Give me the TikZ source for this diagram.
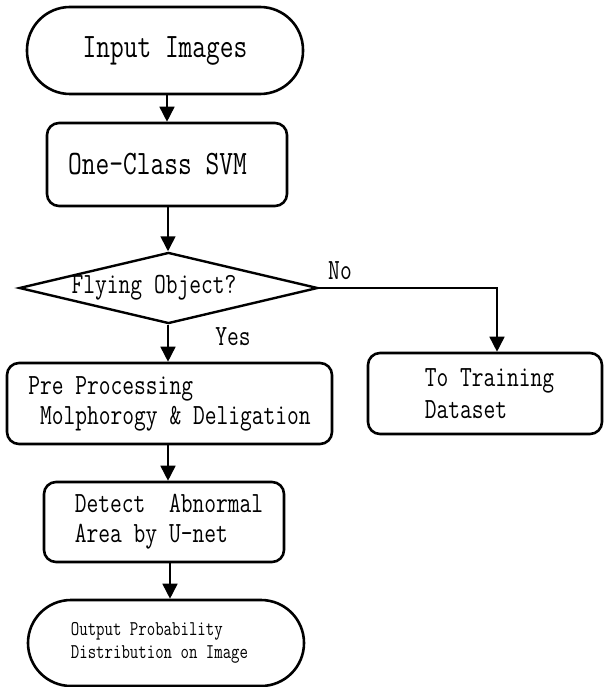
\documentclass[tikz,border=0pt]{standalone}
\usepackage{fontspec}
\setmonofont{Latin Modern Mono}[FakeStretch=0.78]
\usetikzlibrary{shapes.geometric,arrows.meta}
\newcommand{\fbig}{\ttfamily\fontsize{34.2}{38}\selectfont}
\newcommand{\fmed}{\ttfamily\fontsize{29.3}{30}\selectfont}
\newcommand{\fmedb}{\ttfamily\fontsize{29.3}{32}\selectfont}
\newcommand{\fsmall}{\ttfamily\fontsize{21}{23}\selectfont}
\begin{document}
\begin{tikzpicture}[x=1pt,y=-1pt,
  stadium/.style={draw,line width=2.6pt,rectangle,rounded corners=43pt,inner sep=0pt,align=left},
  procbox/.style={draw,line width=2.6pt,rectangle,rounded corners=12pt,inner sep=0pt,align=left},
  decbox/.style={draw,line width=2.4pt,diamond,aspect=4.2,inner sep=0pt,minimum width=295pt,minimum height=70pt},
  conn/.style={line width=1.6pt,-{Triangle[length=15pt,width=15pt]}},
  lbl/.style={inner sep=0pt}]
\useasboundingbox (0,0) rectangle (603,687);

\node[stadium,font=\fbig,minimum width=276pt,minimum height=87pt] (in) at (165,50.5) {Input Images};
\node[procbox,font=\fbig,minimum width=240pt,minimum height=83pt] (svm) at (167,164.5) {One-Class SVM\hspace*{19pt}};
\node[decbox,font=\fmed] (dec) at (168.5,288) {Flying Object?\hspace*{29pt}};
\node[procbox,font=\fmed,minimum width=325pt,minimum height=81pt] (pre) at (169.5,403.5) {Pre Processing\\\phantom{M}Molphorogy \& Deligation};
\node[procbox,font=\fmedb,minimum width=234pt,minimum height=81pt] (train) at (485,393.5) {\hspace*{9pt}To Training\\\hspace*{9pt}Dataset};
\node[procbox,font=\fmed,minimum width=240pt,minimum height=80pt] (det) at (164,522) {\hspace*{10pt}Detect\ \ Abnormal\\\hspace*{10pt}Area by U-net};
\node[stadium,font=\fsmall,minimum width=276pt,minimum height=86pt] (out) at (166,643) {Output Probability\\Distribution on Image\hspace*{13pt}};

\node[lbl,font=\fmed] (yes) at (233,337) {Yes};
\node[lbl,font=\fmed] (no) at (340,271) {No};

\coordinate (c1) at (167,0);
\coordinate (c2) at (168,0);
\coordinate (c3) at (170,0);
\coordinate (c4) at (497,0);

\draw[conn] (in.south -| c1) -- (svm.north -| c1);
\draw[conn] (svm.south -| c2) -- (dec.north -| c2);
\draw[conn] (dec.south -| c2) -- (pre.north -| c2);
\draw[conn] (pre.south -| c2) -- (det.north -| c2);
\draw[conn] (det.south -| c3) -- (out.north -| c3);
\draw[conn] (dec.east) -| (train.north -| c4);
\end{tikzpicture}
\end{document}
